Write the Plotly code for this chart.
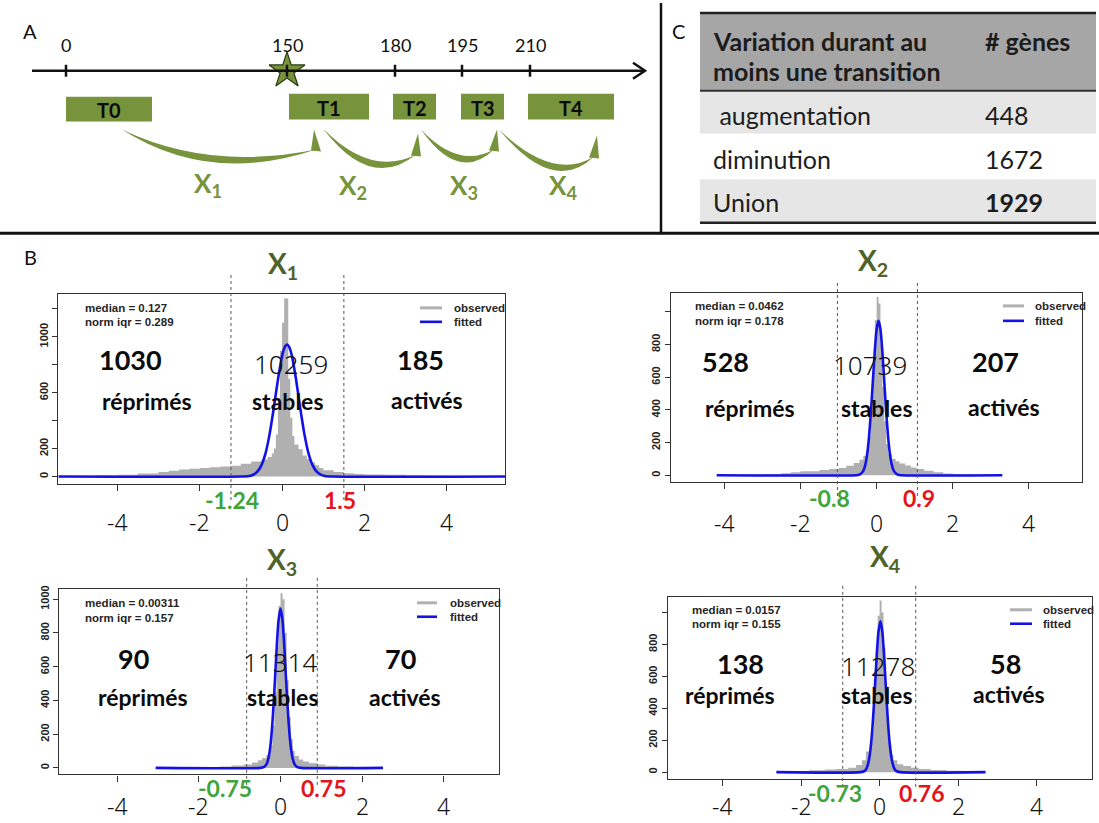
import plotly.graph_objects as go

W, H = 1099, 823

# ---------------- data ----------------
timeline_days = [0, 150, 180, 195, 210]
timepoints = ["T0", "T1", "T2", "T3", "T4"]
transition_ids = [1, 2, 3, 4]

table_header = ["Variation durant au", "moins une transition", "# gènes"]
table_rows = [" augmentation", "diminution", "Union"]
table_counts = [448, 1672, 1929]

n_repressed = [1030, 528, 90, 138]
n_stable = [10259, 10739, 11314, 11278]
n_activated = [185, 207, 70, 58]
fit_median = ["0.127", "0.0462", "0.00311", "0.0157"]
fit_norm_iqr = ["0.289", "0.178", "0.157", "0.155"]
low_cut_label = ["-1.24", "-0.8", "-0.75", "-0.73"]
high_cut_label = ["1.5", "0.9", "0.75", "0.76"]
low_cut_line = [-1.24, -1.03, -0.83, -0.94]
high_cut_line = [1.5, 1.07, 0.90, 0.92]
x_tick_values = [-4, -2, 0, 2, 4]
y_tick_labeled = [
    [0, 200, 600, 1000],
    [0, 200, 400, 600, 800],
    [0, 200, 400, 600, 800, 1000],
    [0, 200, 400, 600, 800],
]
y_tick_unlabeled = [
    [400, 800, 1200],
    [1000],
    [],
    [1000],
]

# observed histograms (bin edges, counts)
obs1_edges = [-5.43, -5.0, -4.5, -4.0, -3.5, -3.0, -2.75, -2.5, -2.25, -2.0, -1.75, -1.5, -1.25, -1.0,
              -0.75, -0.5, -0.35, -0.25, -0.2, -0.15, -0.1, -0.05, 0.0, 0.05, 0.15, 0.2, 0.25, 0.3,
              0.4, 0.5, 0.6, 0.7, 0.8, 0.9, 1.0, 1.25, 1.5, 1.75, 2.0, 2.5, 3.0, 3.5, 4.0, 4.5, 5.0, 5.41]
obs1_counts = [4, 6, 9, 13, 22, 33, 42, 50, 56, 62, 66, 72, 78, 92, 108, 122, 140, 165, 200, 300,
               560, 900, 1100, 1275, 700, 420, 290, 230, 195, 150, 125, 100, 80, 62, 45, 32, 24, 19,
               15, 12, 9, 7, 5, 4, 3]
obs2_edges = [-4.2, -3.5, -3.0, -2.5, -2.25, -2.0, -1.5, -1.25, -1.0, -0.8, -0.6, -0.45, -0.35, -0.25,
              -0.2, -0.15, -0.1, -0.05, 0.0, 0.05, 0.1, 0.15, 0.2, 0.25, 0.3, 0.4, 0.5, 0.6, 0.75, 0.9,
              1.05, 1.25, 1.5, 1.75, 2.0, 2.5, 3.0, 3.3]
obs2_counts = [2, 4, 8, 12, 18, 25, 32, 38, 45, 58, 75, 95, 120, 160, 240, 400, 640, 950, 1090, 1050,
               800, 540, 330, 190, 130, 100, 85, 72, 60, 48, 38, 28, 18, 10, 6, 3, 2]
obs3_edges = [-3.05, -2.5, -2.0, -1.5, -1.2, -0.9, -0.7, -0.55, -0.45, -0.35, -0.25, -0.2, -0.15, -0.1,
              -0.05, 0.0, 0.05, 0.1, 0.15, 0.2, 0.25, 0.3, 0.35, 0.45, 0.55, 0.7, 0.9, 1.1, 1.4, 1.8,
              2.2, 2.5]
obs3_counts = [1, 2, 4, 8, 14, 20, 32, 45, 58, 75, 130, 250, 450, 720, 960, 1035, 1000, 800, 520, 300,
               170, 100, 70, 50, 38, 28, 20, 13, 8, 4, 2]
obs4_edges = [-2.63, -2.2, -1.8, -1.4, -1.1, -0.8, -0.6, -0.45, -0.35, -0.25, -0.2, -0.15, -0.1, -0.05,
              0.0, 0.05, 0.1, 0.15, 0.2, 0.25, 0.3, 0.35, 0.45, 0.6, 0.8, 1.0, 1.3, 1.7, 2.1, 2.5, 2.7]
obs4_counts = [5, 8, 12, 16, 20, 28, 45, 75, 130, 180, 270, 480, 760, 980, 1075, 1000, 780, 500, 290,
               170, 110, 75, 50, 38, 28, 20, 14, 9, 5, 3]

# fitted normal curves (read points)
fit1_x = [-5.43, -1.0, -0.8, -0.7, -0.6, -0.5, -0.4, -0.3, -0.2, -0.1, 0.0, 0.06, 0.12, 0.18, 0.24,
          0.34, 0.44, 0.54, 0.64, 0.74, 0.84, 0.94, 1.04, 1.24, 5.41]
fit1_y = [0, 0, 4, 13, 35, 82, 168, 307, 492, 694, 862, 923, 945, 923, 862, 694, 492, 307, 168, 82,
          35, 13, 4, 0, 0]
fit2_x = [-4.2, -0.55, -0.45, -0.35, -0.30, -0.25, -0.20, -0.15, -0.10, -0.05, 0.0, 0.05, 0.10, 0.15,
          0.20, 0.25, 0.30, 0.35, 0.40, 0.45, 0.55, 0.65, 3.3]
fit2_y = [0, 0, 4, 27, 62, 128, 236, 389, 573, 757, 894, 945, 894, 757, 573, 389, 236, 128, 62, 27, 4,
          0, 0]
fit3_x = [-3.06, -0.5, -0.4, -0.35, -0.3, -0.25, -0.2, -0.15, -0.1, -0.05, 0.0, 0.05, 0.1, 0.15, 0.2,
          0.25, 0.3, 0.35, 0.4, 0.5, 2.51]
fit3_y = [0, 0, 6, 19, 53, 128, 263, 460, 686, 872, 945, 872, 686, 460, 263, 128, 53, 19, 6, 0, 0]
fit4_x = [-2.63, -0.48, -0.38, -0.33, -0.28, -0.23, -0.18, -0.13, -0.08, -0.03, 0.02, 0.07, 0.12,
          0.17, 0.22, 0.27, 0.32, 0.37, 0.42, 0.52, 2.70]
fit4_y = [0, 0, 8, 25, 66, 149, 289, 486, 703, 878, 945, 878, 703, 486, 289, 149, 66, 25, 8, 0, 0]

obs_edges = [obs1_edges, obs2_edges, obs3_edges, obs4_edges]
obs_counts = [obs1_counts, obs2_counts, obs3_counts, obs4_counts]
fit_x = [fit1_x, fit2_x, fit3_x, fit4_x]
fit_y = [fit1_y, fit2_y, fit3_y, fit4_y]

# ---------------- styles / layout ----------------
GREEN = "#77933C"
OLIVE = "#4F6228"
GRAY_HIST = "#B0B0B0"
BLUE = "#1212E6"
CAL = "Lato, 'Open Sans', sans-serif"
THIN = "'Noto Sans', 'Open Sans', sans-serif"
ARIAL = "'Liberation Sans', Arial, sans-serif"

frames = [(58.3, 505, 291.7, 482.7), (671, 1082.3, 290.7, 480.7),
          (59.3, 499.3, 587.7, 774.3), (667.7, 1092.3, 595.7, 778.7)]
x_ranges = [[-5.43, 5.41], [-5.40, 5.40], [-5.42, 5.36], [-5.40, 5.42]]
y_ranges = [[-53, 1309], [-41, 1117], [-39, 1063], [-42, 1100]]

panel_pos = [
    dict(title=(283, 263), med=(83, 306, 320), leg=(420, 442, 452, 306, 320),
         counts=((130, 358), (291, 362), (420, 358)), words=((147, 399), (288, 399), (427, 398)),
         cuts=((232, 499), (340, 499)), tick_y=521, dash=(273, 500)),
    dict(title=(873, 260), med=(693, 304, 319), leg=(1003, 1024, 1033, 304, 319),
         counts=((725, 360), (870, 363), (995, 360)), words=((750, 406), (877, 406), (1004, 405)),
         cuts=((829, 497), (919, 497)), tick_y=522, dash=(281, 498)),
    dict(title=(282, 560), med=(83, 602, 617), leg=(417, 437, 448, 602, 616),
         counts=((133, 658), (280, 661), (400, 658)), words=((143, 697), (283, 697), (405, 697)),
         cuts=((225, 788), (323, 788)), tick_y=806, dash=(577, 787)),
    dict(title=(885, 557), med=(690, 609, 623), leg=(1010, 1032, 1041, 609, 623),
         counts=((740, 663), (878, 665), (1005, 663)), words=((730, 695), (877, 695), (1009, 694)),
         cuts=((835, 793), (921, 793)), tick_y=806, dash=(585, 787)),
]

shapes = []
ann = []


def text(x, y, s, size, color="#111", family=CAL, xanchor="center", yanchor="middle",
         xref="x5", yref="y5", weight=None):
    f = dict(family=family, size=size, color=color)
    if weight is not None:
        f["weight"] = weight
    ann.append(dict(x=x, y=y, xref=xref, yref=yref, text=s, showarrow=False,
                    xanchor=xanchor, yanchor=yanchor, font=f))


def line(x0, y0, x1, y1, color, width, dash=None, xref="x5", yref="y5"):
    ln = dict(color=color, width=width)
    if dash:
        ln["dash"] = dash
    shapes.append(dict(type="line", x0=x0, y0=y0, x1=x1, y1=y1, xref=xref, yref=yref, line=ln))


def rect(x0, y0, x1, y1, fill):
    shapes.append(dict(type="rect", x0=x0, y0=y0, x1=x1, y1=y1, xref="x5", yref="y5",
                       fillcolor=fill, line=dict(width=0), layer="below"))


def path(d, fill=None, color=None, width=0):
    s = dict(type="path", path=d, xref="x5", yref="y5",
             line=dict(width=width, color=color or "rgba(0,0,0,0)"))
    if fill:
        s["fillcolor"] = fill
    shapes.append(s)


fig = go.Figure()

# ---------------- Panel A ----------------
text(30, 28, "A", 20, "#111", CAL)
line(32, 68, 643, 68, "#111", 2.5)
path("M633,60 L645,68 L633,76", color="#111", width=2.5)
tick_px = [66, 287, 395, 462, 530]
for d, px in zip(timeline_days, tick_px):
    line(px, 62, px, 74, "#111", 2.5)
    text(px, 42, str(d), 18, "#111", CAL)
fig.add_trace(go.Scatter(x=[tick_px[1]], y=[68], xaxis="x5", yaxis="y5", mode="markers",
                         marker=dict(symbol="star", size=27, color=GREEN,
                                     line=dict(color="#2C3A10", width=1.2)),
                         hoverinfo="skip"))
boxes = [(66, 152, 94, 119), (289, 369, 91, 117), (393, 436, 91, 117), (461, 504, 91, 117), (528, 614, 91, 117)]
for name, (x0, x1, y0, y1) in zip(timepoints, boxes):
    rect(x0, y0, x1, y1, GREEN)
    text((x0 + x1) / 2, (y0 + y1) / 2 + 1, f"<b>{name}</b>", 20, "#0b0b0b", CAL)

arrows = [((122, 127), (214, 156), (316, 145), (314, 127)),
          ((323, 126), (370, 160), (416, 150), (418, 131)),
          ((421, 127), (458, 155), (494, 145), (497, 127)),
          ((499, 127), (550, 163), (594, 152), (597, 133))]
for (p0, pb, p1, tip) in arrows:
    mx = (p0[0] + p1[0]) / 2
    my = (p0[1] + p1[1]) / 2
    cx = 2 * pb[0] - mx
    cyo = 2 * (pb[1] + 3.5) - my
    cyi = 2 * (pb[1] - 3.5) - my
    path(f"M{p0[0]},{p0[1]} Q{cx},{cyo} {p1[0]},{p1[1] + 2} Q{cx},{cyi} {p0[0]},{p0[1]} Z", fill=GREEN)
    path(f"M{p1[0] - 5},{p1[1] + 3} L{tip[0]},{tip[1]} L{p1[0] + 5},{p1[1] + 4} Z", fill=GREEN)
xlab_pos = [(208, 182), (353, 184), (464, 184), (563, 184)]
for k, (x, y) in zip(transition_ids, xlab_pos):
    text(x, y, f"<b>X<sub>{k}</sub></b>", 26, GREEN, CAL)

# ---------------- Panel C ----------------
text(678, 28, "C", 20, "#111", CAL)
line(661, 0, 661, 232, "#111", 2.5)
line(0, 231, W, 231, "#111", 3)
rect(700, 10, 1096, 88, "#A6A6A6")
rect(700, 88, 1096, 131, "#E6E6E6")
rect(700, 177, 1096, 220, "#E6E6E6")
line(700, 10, 1096, 10, "#222", 2.5)
line(700, 88, 1096, 88, "#333", 2)
line(700, 220.5, 1096, 220.5, "#222", 2.5)
text(711, 38, f"<b>{table_header[0]}</b>", 25, "#1c1c1c", CAL, xanchor="left")
text(711, 68, f"<b>{table_header[1]}</b>", 25, "#1c1c1c", CAL, xanchor="left")
text(983, 38, f"<b>{table_header[2]}</b>", 25, "#1c1c1c", CAL, xanchor="left")
row_y = [112, 157, 200]
for i, (lab, cnt, y) in enumerate(zip(table_rows, table_counts, row_y)):
    text(711, y, lab.replace(" ", "\u00a0"), 25, "#1c1c1c", CAL, xanchor="left")
    s = f"<b>{cnt}</b>" if i == len(table_rows) - 1 else str(cnt)
    text(983, y, s, 25, "#1c1c1c", CAL, xanchor="left")

# ---------------- Panel B ----------------
text(30, 255, "B", 20, "#111", CAL)

layout_axes = {}
for i in range(4):
    L, R, T, B = frames[i]
    xa = "xaxis" if i == 0 else f"xaxis{i + 1}"
    ya = "yaxis" if i == 0 else f"yaxis{i + 1}"
    xr = "x" if i == 0 else f"x{i + 1}"
    yr = "y" if i == 0 else f"y{i + 1}"
    layout_axes[xa] = dict(domain=[L / W, R / W], range=x_ranges[i], anchor=yr, showgrid=False,
                           zeroline=False, showline=True, mirror=True, linecolor="#333", linewidth=1.3,
                           ticks="outside", ticklen=6, tickwidth=1.3, tickcolor="#333",
                           tickvals=x_tick_values, showticklabels=False, fixedrange=True)
    yax = dict(domain=[1 - B / H, 1 - T / H], range=y_ranges[i], anchor=xr, showgrid=False,
               zeroline=False, showline=True, mirror=True, linecolor="#333", linewidth=1.3,
               ticks="outside", ticklen=5, tickwidth=1.3, tickcolor="#333",
               tickvals=y_tick_labeled[i], ticktext=[str(v) for v in y_tick_labeled[i]], tickangle=-90,
               tickfont=dict(family=ARIAL, size=11, color="#222", weight="bold"),
               fixedrange=True)
    if y_tick_unlabeled[i]:
        yax["minor"] = dict(tickvals=y_tick_unlabeled[i], ticks="outside", ticklen=5, tickwidth=1.3,
                            tickcolor="#333", showgrid=False)
    layout_axes[ya] = yax
    e = obs_edges[i]
    c = obs_counts[i]
    fig.add_trace(go.Scatter(x=e, y=c + [c[-1]], xaxis=xr, yaxis=yr, mode="lines",
                             line=dict(width=0, color=GRAY_HIST, shape="hv"), fill="tozeroy",
                             fillcolor=GRAY_HIST, hoverinfo="skip"))
    fig.add_trace(go.Scatter(x=fit_x[i], y=fit_y[i], xaxis=xr, yaxis=yr, mode="lines",
                             line=dict(width=2.6, color=BLUE, shape="spline", smoothing=0.6),
                             hoverinfo="skip"))

    p = panel_pos[i]
    for v in (low_cut_line[i], high_cut_line[i]):
        line(v, p["dash"][0], v, p["dash"][1], "#555", 1, dash="3px,3px", xref=xr, yref="y5")
    text(p["title"][0], p["title"][1], f"<b>X<sub>{i + 1}</sub></b>", 28, OLIVE, CAL)
    mx_, my1, my2 = p["med"]
    text(mx_, my1, f"<b>median = {fit_median[i]}</b>", 11.5, "#262626", ARIAL, xanchor="left")
    text(mx_, my2, f"<b>norm iqr = {fit_norm_iqr[i]}</b>", 11.5, "#262626", ARIAL, xanchor="left")
    lx0, lx1, ltx, ly1, ly2 = p["leg"]
    line(lx0, ly1, lx1, ly1, GRAY_HIST, 3)
    line(lx0, ly2, lx1, ly2, BLUE, 2.6)
    text(ltx, ly1, "<b>observed</b>", 11.5, "#262626", ARIAL, xanchor="left")
    text(ltx, ly2, "<b>fitted</b>", 11.5, "#262626", ARIAL, xanchor="left")
    (c1, c2, c3) = p["counts"]
    text(c1[0], c1[1], f"<b>{n_repressed[i]}</b>", 27, "#0b0b0b", CAL)
    text(c2[0], c2[1], f"{n_stable[i]}", 26, "#111", THIN, weight=300)
    text(c3[0], c3[1], f"<b>{n_activated[i]}</b>", 27, "#0b0b0b", CAL)
    (w1, w2, w3) = p["words"]
    text(w1[0], w1[1], "<b>réprimés</b>", 23, "#0b0b0b", CAL)
    text(w2[0], w2[1], "<b>stables</b>", 23, "#0b0b0b", CAL)
    text(w3[0], w3[1], "<b>activés</b>", 23, "#0b0b0b", CAL)
    (k1, k2) = p["cuts"]
    text(k1[0], k1[1], f"<b>{low_cut_label[i]}</b>", 23, "#3DA53A", CAL)
    text(k2[0], k2[1], f"<b>{high_cut_label[i]}</b>", 23, "#E5141B", CAL)
    for tv in x_tick_values:
        text(tv, p["tick_y"], str(tv), 23, "#111", THIN, xref=xr, yref="y5", weight=300)

layout_axes["xaxis5"] = dict(domain=[0, 1], range=[0, W], anchor="y5", visible=False, fixedrange=True)
layout_axes["yaxis5"] = dict(domain=[0, 1], range=[H, 0], anchor="x5", visible=False, fixedrange=True)

fig.update_layout(
    width=W, height=H, margin=dict(l=0, r=0, t=0, b=0),
    paper_bgcolor="white", plot_bgcolor="rgba(0,0,0,0)",
    showlegend=False, shapes=shapes, annotations=ann, **layout_axes,
)

fig.write_html("out.html", config={"displayModeBar": False},
               post_script="document.body.style.margin='0px';")
